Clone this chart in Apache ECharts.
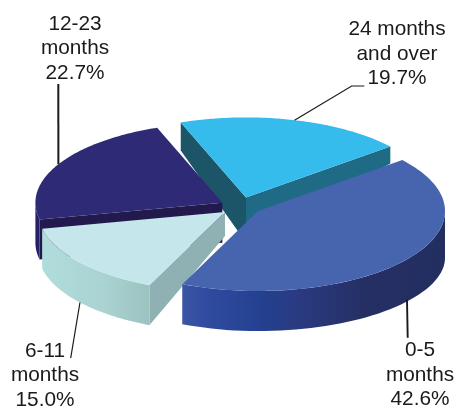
<!DOCTYPE html>
<html>
<head>
<meta charset="utf-8">
<style>html,body{margin:0;padding:0;background:#fff}#c{width:457px;height:408px}</style>
<script src="https://cdn.jsdelivr.net/npm/echarts@6/dist/echarts.min.js"></script>
</head>
<body>
<div id="c"></div>
<script>
// Data
var categories = [['24 months', 'and over'], ['12-23', 'months'], ['6-11', 'months'], ['0-5', 'months']];
var values = [19.7, 22.7, 15.0, 42.6];

// Presentation (projection and style), one entry per slice
var START_ANGLE = 39.5, RX = 187, RY = 80, FONT = 20.8, LINE = 24.6;
var apexX = [246, 222.4, 225, 258];
var apexY = [197.4, 202.7, 212, 211];
var apexDepth = [45, 40, 24, 40];
var rimDepthA = [17, 40, 40, 47];   // depth where the slice starts
var rimDepthB = [28, 40, 40, 40];   // depth where the slice ends
var topColor = ['#36bcec', '#2e2a75', '#c5e6eb', '#4764ae'];
var wallAColor = ['#1f6a85', null, null, null];
var wallBColor = ['#1c5568', '#221a4d', '#8fb1b3', null];
var rimRange = [null, [180, 192.1], [192.1, 246.1], [246.1, 360]];
var rimStops = [null,
  [[0, '#262068'], [1, '#262068']],
  [[0, '#b0dddc'], [0.6, '#a9d2d1'], [1, '#9cc2c0']],
  [[0, '#3c55a5'], [0.1, '#2f4b9f'], [0.3, '#24408f'], [0.45, '#2a3a80'], [0.7, '#252f63'], [1, '#232e60']]];
var leaderEnd = [[[351.7, 86], [364.3, 86]], [[58.3, 84]], [[70.7, 358]], [[407.7, 337.7]]];
var leaderWidth = [1.2, 2, 1.2, 1.9];
var leaderRim = [false, false, true, true];
var labelX = [397, 75, 45, 420];
var labelBase = [36.7, 31, 358, 357.7];

var total = values.reduce(function (a, b) { return a + b; }, 0);
function startOf(i) {
  var s = 0;
  for (var k = 0; k < i; k++) s += values[k];
  return START_ANGLE + s / total * 360;
}
function rimPoint(i, deg) {
  var r = deg * Math.PI / 180;
  return [apexX[i] + RX * Math.cos(r), apexY[i] - RY * Math.sin(r)];
}
function down(p, d) { return [p[0], p[1] + d]; }

function renderSlice(params, api) {
  var i = params.dataIndex;
  var v = api.value(0);
  var a0 = startOf(i), a1 = a0 + v / total * 360;
  var apex = [apexX[i], apexY[i]];
  var children = [];
  var pA = rimPoint(i, a0), pB = rimPoint(i, a1);

  // radial walls
  if (wallAColor[i]) {
    children.push({ type: 'polygon', shape: { points: [apex, pA, down(pA, rimDepthA[i]), down(apex, apexDepth[i])] },
      style: { fill: wallAColor[i] } });
  }
  if (wallBColor[i]) {
    children.push({ type: 'polygon', shape: { points: [apex, pB, down(pB, rimDepthB[i]), down(apex, apexDepth[i])] },
      style: { fill: wallBColor[i] } });
  }
  // outer rim wall
  if (rimRange[i]) {
    var rim = rimRange[i], up = [], lo = [], n = 48;
    for (var k = 0; k <= n; k++) {
      var d = rim[0] + (rim[1] - rim[0]) * k / n;
      var p = rimPoint(i, d);
      up.push(p);
      var depth = i === 3 ? 40 + (rimDepthA[3] - 40) * Math.pow((d - rim[0]) / (rim[1] - rim[0]), 3) : rimDepthA[i];
      lo.unshift(down(p, depth));
    }
    children.push({ type: 'polygon', shape: { points: up.concat(lo) },
      style: { fill: { type: 'linear', x: 0, y: 0, x2: 1, y2: 0,
        colorStops: rimStops[i].map(function (s) { return { offset: s[0], color: s[1] }; }) } } });
  }
  // top face
  var pts = [apex], m = 96;
  for (var j = 0; j <= m; j++) pts.push(rimPoint(i, a0 + (a1 - a0) * j / m));
  children.push({ type: 'polygon', shape: { points: pts }, style: { fill: topColor[i] } });

  // leader line, anchored at the slice's mid-angle
  var mid = (a0 + a1) / 2;
  var anchor = rimPoint(i, mid);
  if (leaderRim[i]) anchor = down(anchor, 40);
  children.push({ type: 'polyline', z2: 5, shape: { points: [anchor].concat(leaderEnd[i]) },
    style: { stroke: '#1a1a1a', lineWidth: leaderWidth[i], fill: null } });

  // label
  var lines = categories[i].concat([v.toFixed(1) + '%']);
  lines.forEach(function (t, l) {
    children.push({ type: 'text', z2: 6, style: {
      text: t, x: labelX[i], y: labelBase[i] + l * LINE - FONT * 0.345,
      fill: '#1a1a1a', align: 'center', verticalAlign: 'middle',
      font: FONT + 'px "Liberation Sans", Arial, sans-serif' } });
  });
  return { type: 'group', children: children };
}

var chart = echarts.init(document.getElementById('c'), null, { renderer: 'canvas' });
chart.setOption({
  backgroundColor: '#ffffff',
  animation: false,
  tooltip: { show: false },
  series: [{
    type: 'custom',
    coordinateSystem: 'none',
    silent: true,
    clip: false,
    renderItem: renderSlice,
    data: values
  }]
});
</script>
</body>
</html>
